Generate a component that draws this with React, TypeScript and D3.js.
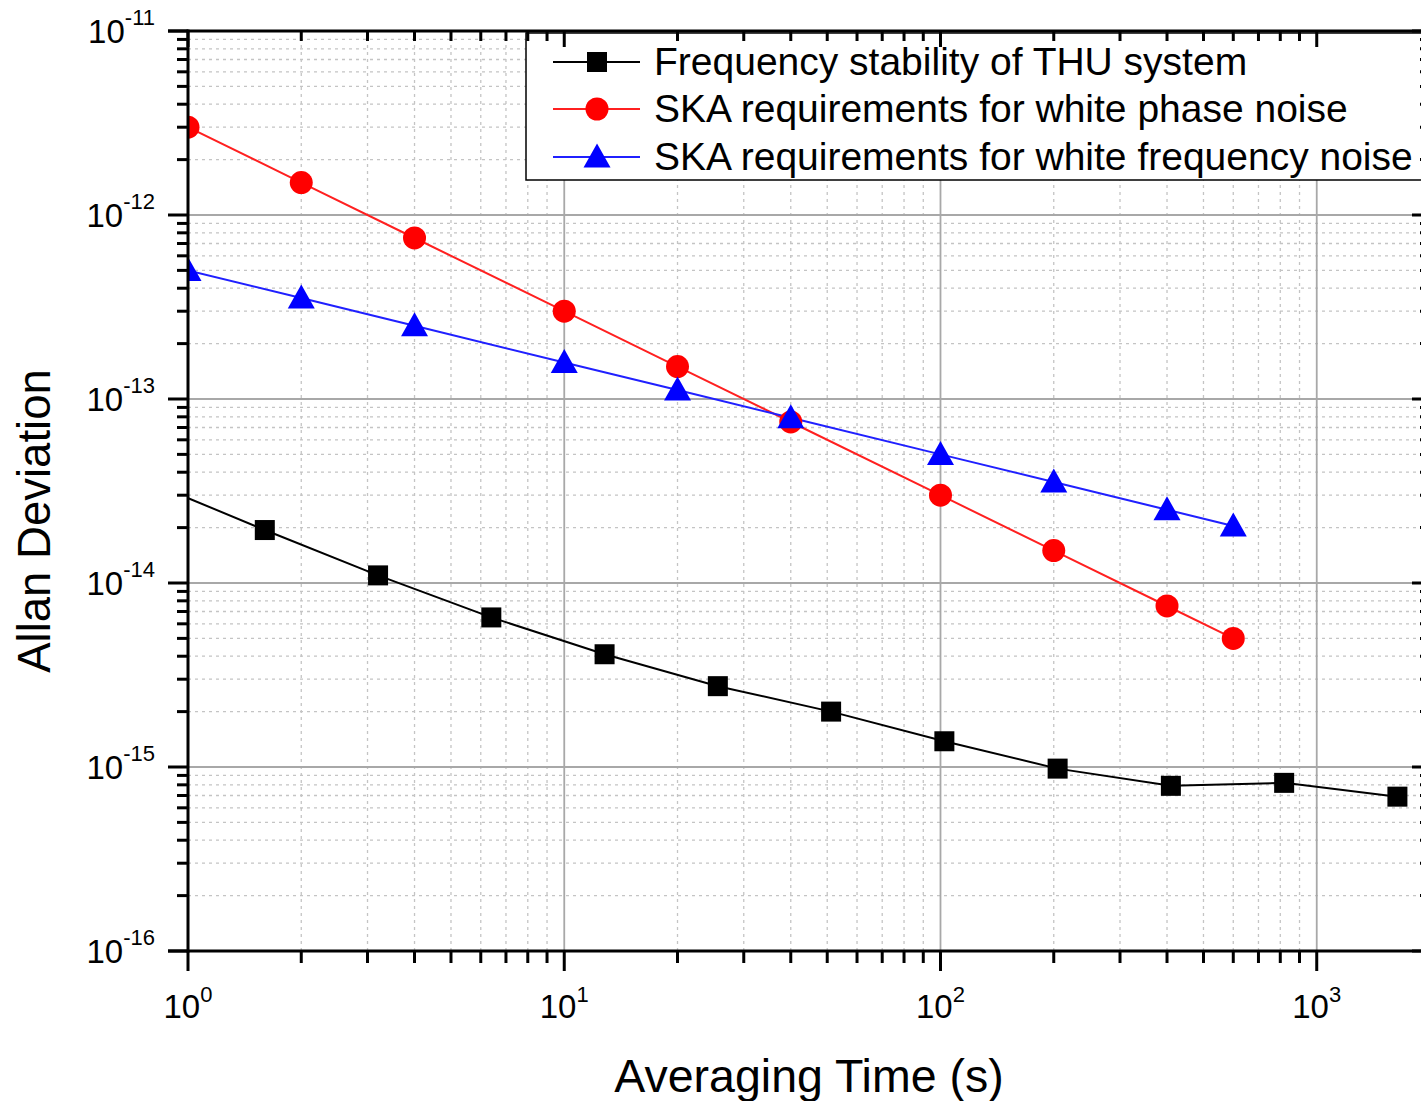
import React from 'react';
import * as d3 from 'd3';

// ---- data ----
const thuTau = [0.8, 1.6, 3.2, 6.4, 12.8, 25.6, 51.2, 102.4, 204.8, 409.6, 819.2, 1638.4];
const thuAdev = [3.5e-14, 1.94e-14, 1.1e-14, 6.5e-15, 4.1e-15, 2.75e-15, 2.0e-15, 1.38e-15, 9.8e-16, 7.9e-16, 8.2e-16, 6.9e-16];
const skaTau = [1, 2, 4, 10, 20, 40, 100, 200, 400, 600];
const skaPhase = [3e-12, 1.5e-12, 7.5e-13, 3e-13, 1.5e-13, 7.5e-14, 3e-14, 1.5e-14, 7.5e-15, 5e-15];
const skaFreq = [5e-13, 3.54e-13, 2.5e-13, 1.58e-13, 1.12e-13, 7.9e-14, 5e-14, 3.54e-14, 2.5e-14, 2.04e-14];
const xTickExps = [0, 1, 2, 3];
const yTickExps = [-11, -12, -13, -14, -15, -16];
const legendLabels = [
  'Frequency stability of THU system',
  'SKA requirements for white phase noise',
  'SKA requirements for white frequency noise',
];
const xTitle = 'Averaging Time (s)';
const yTitle = 'Allan Deviation';

const FONT = '"Liberation Sans", Arial, Helvetica, sans-serif';

export default function App() {
  const W = 1421, H = 1101;
  const left = 188, right = 1430, top = 31, bottom = 951;
  const x = d3.scaleLog().domain([1, 2000]).range([left, right]);
  const y = d3.scaleLog().domain([1e-16, 1e-11]).range([bottom, top]);

  const xMinor: number[] = [];
  [1, 10, 100, 1000].forEach((d) => {
    for (let m = 2; m <= 9; m++) if (d * m <= 2000) xMinor.push(d * m);
  });
  const yMinor: number[] = [];
  [1e-16, 1e-15, 1e-14, 1e-13, 1e-12].forEach((d) => {
    for (let m = 2; m <= 9; m++) yMinor.push(d * m);
  });

  const line = d3.line<[number, number]>().x((d) => x(d[0])).y((d) => y(d[1]));
  const thuPts: [number, number][] = thuTau.map((t, i) => [t, thuAdev[i]]);
  const phPts: [number, number][] = skaTau.map((t, i) => [t, skaPhase[i]]);
  const frPts: [number, number][] = skaTau.map((t, i) => [t, skaFreq[i]]);

  const sq = 20, cr = 11.5, tri = 13.5;
  const triPath = (cx: number, cy: number) =>
    `M${cx},${cy - tri}L${cx + tri * 1.0},${cy + tri * 0.78}L${cx - tri * 1.0},${cy + tri * 0.78}Z`;

  const lgX = 526, lgY = 33, lgH = 147;
  const rowY = [62, 109, 157];

  return (
    <svg width={W} height={H} style={{ position: 'absolute', left: 0, top: 0, background: '#fff' }}>
      <defs>
        <clipPath id="plotclip">
          <rect x={left} y={top} width={right - left} height={bottom - top} />
        </clipPath>
      </defs>
      <rect x={0} y={0} width={W} height={H} fill="#fff" />
      {/* minor grid */}
      <g stroke="#c4c4c4" strokeWidth={1.3} strokeDasharray="3,4">
        {xMinor.map((v) => (
          <line key={'xm' + v} x1={x(v)} x2={x(v)} y1={top} y2={bottom} />
        ))}
        {yMinor.map((v) => (
          <line key={'ym' + v} x1={left} x2={right} y1={y(v)} y2={y(v)} />
        ))}
      </g>
      {/* major grid */}
      <g stroke="#a8a8a8" strokeWidth={1.8}>
        {xTickExps.map((e) => (
          <line key={'xg' + e} x1={x(10 ** e)} x2={x(10 ** e)} y1={top} y2={bottom} />
        ))}
        {yTickExps.map((e) => (
          <line key={'yg' + e} x1={left} x2={right} y1={y(10 ** e)} y2={y(10 ** e)} />
        ))}
      </g>
      {/* data */}
      <g clipPath="url(#plotclip)">
        <path d={line(thuPts) || ''} fill="none" stroke="#000" strokeWidth={2} />
        <path d={line(phPts) || ''} fill="none" stroke="#ff2020" strokeWidth={2} />
        <path d={line(frPts) || ''} fill="none" stroke="#2020ff" strokeWidth={2} />
        {thuPts.map((d, i) => (
          <rect key={'s' + i} x={x(d[0]) - sq / 2} y={y(d[1]) - sq / 2} width={sq} height={sq} fill="#000" />
        ))}
        {phPts.map((d, i) => (
          <circle key={'c' + i} cx={x(d[0])} cy={y(d[1])} r={cr} fill="#ff0000" />
        ))}
        {frPts.map((d, i) => (
          <path key={'t' + i} d={triPath(x(d[0]), y(d[1]))} fill="#0000ff" />
        ))}
      </g>
      {/* legend */}
      <rect x={lgX} y={lgY} width={right - lgX} height={lgH} fill="#fff" stroke="#000" strokeWidth={1.5} />
      {legendLabels.map((lab, i) => (
        <g key={'lg' + i}>
          <line x1={553} x2={640} y1={rowY[i]} y2={rowY[i]} stroke={i === 0 ? '#000' : i === 1 ? '#ff2020' : '#2020ff'} strokeWidth={2} />
          {i === 0 && <rect x={597 - sq / 2} y={rowY[i] - sq / 2} width={sq} height={sq} fill="#000" />}
          {i === 1 && <circle cx={597} cy={rowY[i]} r={cr} fill="#ff0000" />}
          {i === 2 && <path d={triPath(597, rowY[i])} fill="#0000ff" />}
          <text x={654} y={rowY[i] + 13} fontFamily={FONT} fontSize={39} fill="#000">
            {lab}
          </text>
        </g>
      ))}
      {/* axes */}
      <g stroke="#000" strokeWidth={3} fill="none">
        <line x1={left} x2={left} y1={top - 1.5} y2={bottom + 1.5} />
        <line x1={left - 20} x2={right + 5} y1={bottom} y2={bottom} />
        <line x1={left - 20} x2={right + 5} y1={top} y2={top} />
        <line x1={right} x2={right} y1={top} y2={bottom} />
        {/* left ticks */}
        {yTickExps.map((e) => (
          <line key={'lt' + e} x1={left - 20} x2={left} y1={y(10 ** e)} y2={y(10 ** e)} />
        ))}
        {yMinor.map((v) => (
          <line key={'ltm' + v} x1={left - 11} x2={left} y1={y(v)} y2={y(v)} />
        ))}
        {/* right ticks */}
        {yTickExps.map((e) => (
          <line key={'rt' + e} x1={right - 18} x2={right} y1={y(10 ** e)} y2={y(10 ** e)} />
        ))}
        {yMinor.map((v) => (
          <line key={'rtm' + v} x1={right - 10} x2={right} y1={y(v)} y2={y(v)} />
        ))}
        {/* bottom ticks */}
        {xTickExps.map((e) => (
          <line key={'bt' + e} x1={x(10 ** e)} x2={x(10 ** e)} y1={bottom} y2={bottom + 20} />
        ))}
        {xMinor.map((v) => (
          <line key={'btm' + v} x1={x(v)} x2={x(v)} y1={bottom} y2={bottom + 12} />
        ))}
        {/* top ticks */}
        {xTickExps.map((e) => (
          <line key={'tt' + e} x1={x(10 ** e)} x2={x(10 ** e)} y1={top} y2={top + 16} />
        ))}
        {xMinor.map((v) => (
          <line key={'ttm' + v} x1={x(v)} x2={x(v)} y1={top} y2={top + 10} />
        ))}
      </g>
      {/* tick labels */}
      <g fontFamily={FONT} fill="#000">
        {yTickExps.map((e) => (
          <text key={'yl' + e} x={155} y={y(10 ** e) + 12} textAnchor="end" fontSize={33}>
            10<tspan dy={-18} fontSize={22}>{String(e)}</tspan>
          </text>
        ))}
        {xTickExps.map((e) => (
          <text key={'xl' + e} x={x(10 ** e)} y={1018} textAnchor="middle" fontSize={33}>
            10<tspan dy={-16} fontSize={22}>{String(e)}</tspan>
          </text>
        ))}
      </g>
      {/* titles */}
      <text x={809} y={1092} textAnchor="middle" fontFamily={FONT} fontSize={46.5} fill="#000">
        {xTitle}
      </text>
      <text transform="translate(50,521) rotate(-90)" textAnchor="middle" fontFamily={FONT} fontSize={45.5} fill="#000">
        {yTitle}
      </text>
    </svg>
  );
}
